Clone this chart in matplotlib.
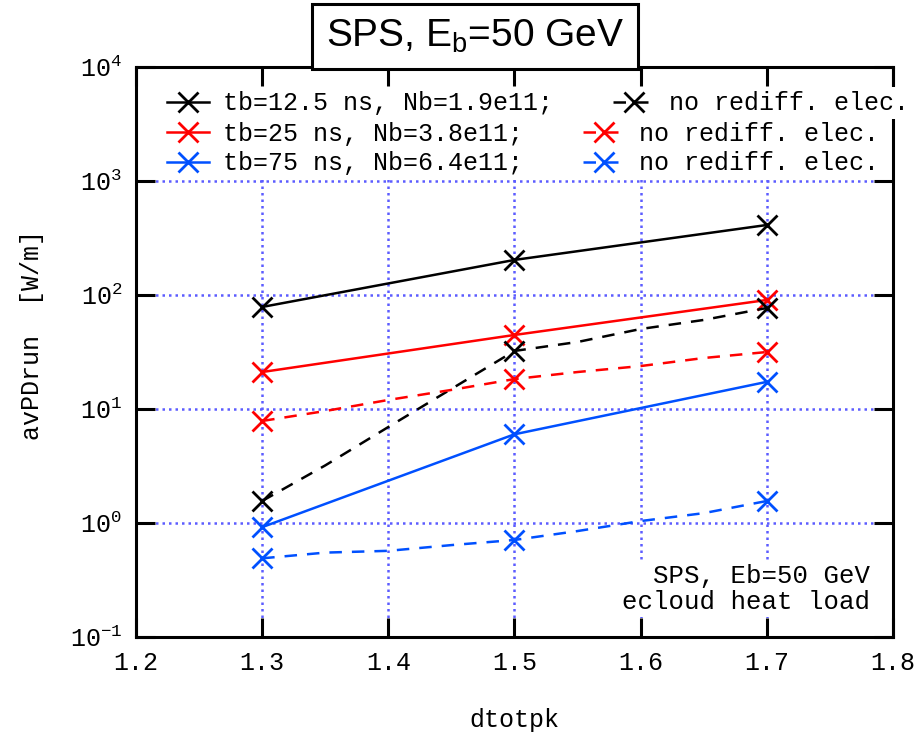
import numpy as np
import matplotlib
matplotlib.use("Agg")
import matplotlib.pyplot as plt
from matplotlib.ticker import FixedLocator, FuncFormatter, NullLocator

# simulation points (markers only at 1.3, 1.5, 1.7)
dtotpk_main = [1.3, 1.5, 1.7]
dtotpk_fine = [1.3, 1.35, 1.4, 1.45, 1.5, 1.55, 1.6, 1.65, 1.7]

heat_12ns = [78.5, 203, 411]
heat_25ns = [21.1, 44.6, 90.4]
heat_75ns = [0.92, 6.0, 17.3]

heat_12ns_nored = [1.56, 3.2, 6.95, 15.0, 32.3, 38.7, 50.3, 60.4, 76.9]
heat_25ns_nored = [7.85, 9.6, 12.0, 14.7, 18.3, 21.1, 23.8, 28.0, 31.6]
heat_75ns_nored = [0.49, 0.55, 0.57, 0.64, 0.71, 0.85, 1.04, 1.22, 1.56]

labels = ["tb=12.5 ns, Nb=1.9e11;", "tb=25 ns, Nb=3.8e11;", "tb=75 ns, Nb=6.4e11;"]
label_nored = "no rediff. elec."
colors = ["black", "#ff0000", "#0050ff"]

mono = "Liberation Mono"
fig = plt.figure(figsize=(9.22, 7.44), dpi=100)
ax = fig.add_axes([0.1475, 0.1438, 0.821, 0.7662])

solid = []
for y, c, lab in zip([heat_12ns, heat_25ns, heat_75ns], colors, labels):
    h, = ax.plot(dtotpk_main, y, color=c, lw=1.8, marker="x", ms=14, mew=2, label=lab)
    solid.append(h)

dashed = []
for y, c in zip([heat_12ns_nored, heat_25ns_nored, heat_75ns_nored], colors):
    h, = ax.plot(dtotpk_fine, y, color=c, lw=1.8, ls=(0, (5, 4)), marker="x", ms=14, mew=2,
                 markevery=[0, 4, 8], label=label_nored)
    dashed.append(h)

ax.set_yscale("log")
ax.set_xlim(1.2, 1.8)
ax.set_ylim(0.1, 1e4)
ax.yaxis.set_major_locator(FixedLocator([0.1, 1, 10, 100, 1000, 10000]))
ax.yaxis.set_minor_locator(NullLocator())
ax.yaxis.set_major_formatter(FuncFormatter(lambda v, p: r"$\mathregular{10^{%d}}$" % round(np.log10(v))))
ax.set_xticks([1.2, 1.3, 1.4, 1.5, 1.6, 1.7, 1.8])
ax.set_xticklabels(["1.2", "1.3", "1.4", "1.5", "1.6", "1.7", "1.8"])

ax.grid(True, color="#5c5cff", ls=(0, (1, 1.6)), lw=1.8)
ax.tick_params(direction="in", length=14, width=2.2, top=True, right=True, labelsize=18, pad=10)
for lab in ax.get_xticklabels() + ax.get_yticklabels():
    lab.set_fontfamily(mono)
for s in ax.spines.values():
    s.set_linewidth(2.2)

ax.set_xlabel("dtotpk", fontsize=18, fontfamily=mono)
ax.set_ylabel("avPDrun  [W/m]", fontsize=18, fontfamily=mono)
ax.xaxis.set_label_coords(0.5, -0.125)
ax.yaxis.set_label_coords(-0.122, 0.53)

# one legend per row, so the dashed entry follows its own label
row_y = [0.936, 0.883, 0.831]
for i in range(3):
    leg = ax.legend(handles=[solid[i], dashed[i]], ncol=2, loc="center left",
                    bbox_to_anchor=(0.019, row_y[i]), prop={"family": mono, "size": 18},
                    handlelength=1.7, handletextpad=0.55, columnspacing=2.4,
                    borderpad=0.16, frameon=True, facecolor="white", edgecolor="white",
                    framealpha=1)
    leg.get_frame().set_linewidth(0)
    if i < 2:
        ax.add_artist(leg)

ax.text(0.97, 0.04, "SPS, Eb=50 GeV\necloud heat load", transform=ax.transAxes,
        ha="right", va="bottom", fontsize=18.5, fontfamily=mono, linespacing=1.1,
        bbox=dict(facecolor="white", edgecolor="none", pad=2))

fig.text(0.515, 0.951, r"SPS, E$\mathregular{_b}$=50 GeV", ha="center", va="center",
         fontsize=28, fontfamily="Liberation Sans",
         bbox=dict(facecolor="white", edgecolor="black", lw=2.2, boxstyle="square,pad=0.35"))

fig.savefig("out.png", dpi=100)
plt.close()
